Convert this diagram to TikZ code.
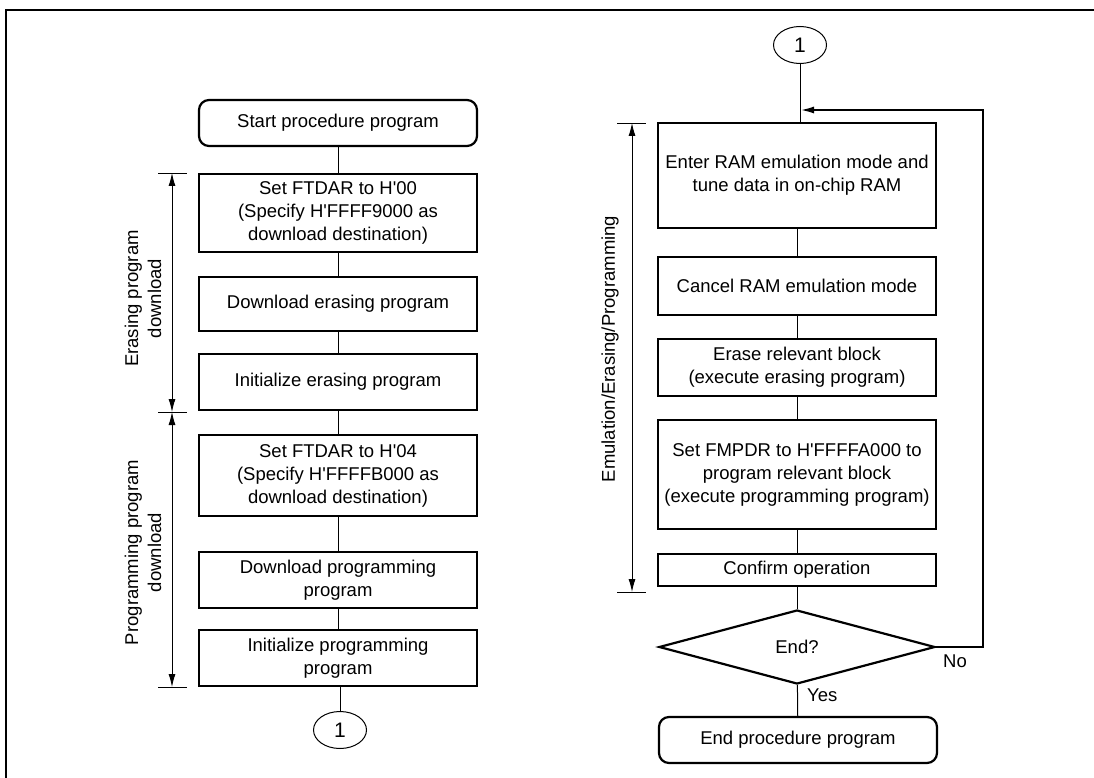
\documentclass[tikz,border=0pt]{standalone}
\usepackage{fontspec}
\setmainfont{Liberation Sans}
\usetikzlibrary{shapes.geometric,arrows.meta}
\newcommand\figfont{\fontsize{18.5pt}{23pt}\selectfont}
\newcommand\connfont{\fontsize{21pt}{24pt}\selectfont}
\tikzset{
  procbox/.style={draw, line width=2.2pt, minimum width=278pt, align=center, inner sep=0pt, font=\figfont},
  termbox/.style={procbox, rounded corners=10pt},
  decbox/.style={draw, diamond, line width=2.2pt, minimum width=276pt, minimum height=74pt, aspect=3.7, inner sep=0pt, font=\figfont},
  conn/.style={draw, ellipse, line width=1pt, minimum width=53pt, minimum height=37pt, inner sep=0pt, font=\connfont},
  flow/.style={line width=1pt},
  loopline/.style={line width=2.2pt},
  dimarrow/.style={line width=0.9pt, {Latex[length=13pt,width=7pt]}-{Latex[length=13pt,width=7pt]}},
  tick/.style={line width=0.9pt},
  lbl/.style={font=\figfont, align=center, inner sep=0pt}
}
\begin{document}
\begin{tikzpicture}[x=1pt,y=-1pt]
\useasboundingbox (0,0) rectangle (1094,778);
% frame
\draw[line width=2pt] (1094,10) -- (6,10) -- (6,778);

% left column
\node[termbox, minimum height=46pt] (start) at (338,123) {Start procedure program};
\node[procbox, minimum height=78pt] (b2) at (338,213) {Set FTDAR to H\textquotesingle 00\\(Specify H\textquotesingle FFFF9000 as\\download destination)};
\node[procbox, minimum height=54pt] (b3) at (338,304) {Download erasing program};
\node[procbox, minimum height=56pt] (b4) at (338,382) {Initialize erasing program};
\node[procbox, minimum height=81pt] (b5) at (338,475.5) {Set FTDAR to H\textquotesingle 04\\(Specify H\textquotesingle FFFFB000 as\\download destination)};
\node[procbox, minimum height=56pt] (b6) at (338,580) {Download programming\\program};
\node[procbox, minimum height=56pt] (b7) at (338,658) {Initialize programming\\program};
\node[conn] (c1) at (340,730) {1};

\draw[flow] (start) -- (b2);
\draw[flow] (b2) -- (b3);
\draw[flow] (b3) -- (b4);
\draw[flow] (b4) -- (b5);
\draw[flow] (b5) -- (b6);
\draw[flow] (b6) -- (b7);
\draw[flow] (b7.south -| c1) -- (c1);

% left dimension markers
\coordinate (t1) at (172,173);
\coordinate (t2) at (172,412);
\coordinate (t3) at (172,687);
\draw[tick] ([xshift=-14pt]t1) -- ([xshift=15pt]t1);
\draw[tick] ([xshift=-14pt]t2) -- ([xshift=15pt]t2);
\draw[tick] ([xshift=-14pt]t3) -- ([xshift=15pt]t3);
\draw[dimarrow] (t1) -- (t2);
\draw[dimarrow] (t2) -- (t3);
\node[lbl, rotate=90] (lerase) at (143,298.5) {Erasing program\\download};
\node[lbl, rotate=90] (lprog) at (143,552.5) {Programming program\\download};

% right column
\node[conn] (c2) at (800,45) {1};
\node[procbox, minimum height=105pt] (r1) at (797,175.5) {Enter RAM emulation mode and\\tune data in on-chip RAM};
\node[procbox, minimum height=58pt] (r2) at (797,286) {Cancel RAM emulation mode};
\node[procbox, minimum height=57pt] (r3) at (797,367.5) {Erase relevant block\\(execute erasing program)};
\node[procbox, minimum height=109pt] (r4) at (797,474.5) {Set FMPDR to H\textquotesingle FFFFA000 to\\program relevant block\\(execute programming program)};
\node[procbox, minimum height=32pt] (r5) at (797,570) {Confirm operation};
\node[decbox] (dec) at (797,647) {End?};
\node[termbox, minimum height=46pt] (fin) at (798,740) {End procedure program};

\coordinate (m) at (800,110);
\coordinate (lp) at (983,110);
\draw[flow] (c2) -- (r1.north -| c2);
\draw[flow] (r1) -- (r2);
\draw[flow] (r2) -- (r3);
\draw[flow] (r3) -- (r4);
\draw[flow] (r4) -- (r5);
\draw[flow] (r5) -- (dec);
\draw[flow] (dec) -- (fin);
\draw[loopline, -{Latex[length=14pt,width=7pt]}] (dec.east) -| (lp) -- (m);
\node[lbl, anchor=west] (yes) at (807,695) {Yes};
\node[lbl] (no) at (955,661) {No};

% right dimension marker
\coordinate (u1) at (632,123);
\coordinate (u2) at (632,592);
\draw[tick] ([xshift=-15pt]u1) -- ([xshift=14pt]u1);
\draw[tick] ([xshift=-15pt]u2) -- ([xshift=14pt]u2);
\draw[dimarrow] (u1) -- (u2);
\node[lbl, rotate=90] (lemu) at (610,349) {Emulation/Erasing/Programming};
\end{tikzpicture}
\end{document}
